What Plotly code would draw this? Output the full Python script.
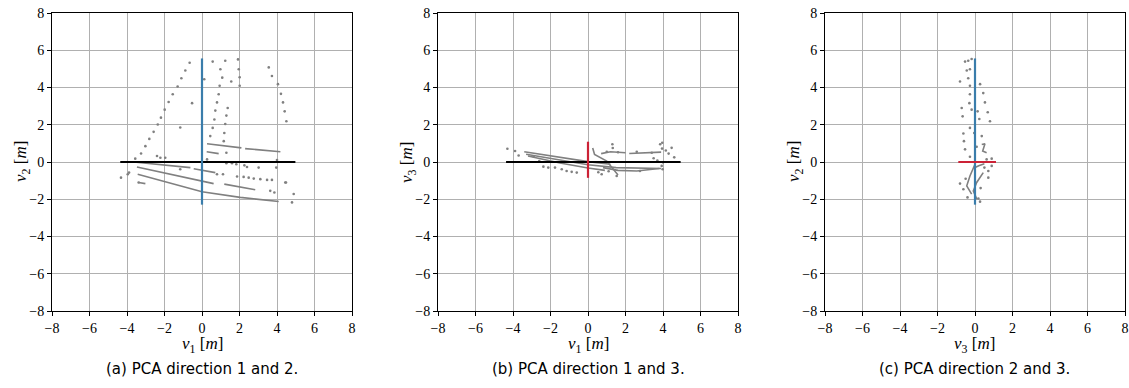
import plotly.graph_objects as go

# ---------------- data ----------------
# Panel (a): v1 vs v2
a_dots_x = [-0.66, -0.89, -1.10, -1.30, -1.56, -1.78, -1.99, -2.19, -2.36, -2.58, -2.81, -3.02, -3.25, -3.56,
            -3.89, -3.96, -4.32, -0.53, -1.16, -2.40, -2.22, -1.96, 0.12,
            0.57, 1.24, 1.92, 0.98, 1.96, 1.08, 1.56, 2.01, 0.94, 2.01, 0.89, 0.80, 1.37, 0.71, 1.30, 0.66, 1.24,
            0.57, 1.19, 0.44, 1.16, 1.30,
            3.56, 3.73, 4.05, 4.21, 4.32, 4.41, 4.50, 4.89, 4.80, 4.44,
            0.27, 1.30, 1.60, 1.83, 2.26, 2.40, 3.02, 3.96, 4.00,
            0.80, 1.12, 1.87, 2.22, 2.49, 2.76, 3.11, 3.47, 3.73, 3.64, 3.86, 4.48, -1.16, -3.38]
a_dots_y = [5.33, 4.91, 4.50, 4.05, 3.64, 3.22, 2.81, 2.38, 2.01, 1.62, 1.24, 0.85, 0.46, 0.18,
            -0.57, -0.66, -0.84, 3.16, 1.85, 0.32, 0.23, 0.23, 4.44,
            5.39, 5.44, 5.51, 4.98, 4.98, 4.53, 4.32, 4.55, 4.09, 4.09, 3.64, 3.20, 2.90, 2.76, 2.49, 2.28, 2.04,
            1.83, 1.56, 1.39, 1.12, 0.50,
            5.08, 4.62, 4.18, 3.66, 3.20, 2.72, 2.19, -1.72, -2.17, -1.10,
            0.14, -0.07, -0.07, -0.12, -0.18, -0.27, -0.30, -0.30, 0.11,
            -0.66, -0.66, -0.78, -0.80, -0.84, -0.89, -0.92, -0.96, -0.96, -1.55, -1.64, -1.10, -0.39, -1.10]
a_streaks_x = [[0.27, 2.10], [2.30, 4.18], [0.25, 0.89], [-3.64, -0.62], [-0.44, 0.71],
               [-3.47, 0.62], [1.19, 2.84], [-3.43, 0.0, 2.04, 4.09], [-3.38, -3.02]]
a_streaks_y = [[0.98, 0.76], [0.72, 0.55], [0.55, 0.45], [0.0, -0.30], [-0.36, -0.57],
               [-0.27, -1.16], [-1.19, -1.49], [-0.66, -1.60, -1.90, -2.12], [-1.10, -1.16]]
a_axis1_x = [-4.36, 4.98]
a_axis2_y = [-2.29, 5.56]

# Panel (b): v1 vs v3
b_dots_x = [-4.30, -3.89, -3.70, -2.38, -2.12, -1.76, -1.40, -1.14, -0.87, -0.60, -2.9, -2.6,
            1.3, 1.32, 3.96, 4.46, 3.93, 3.98, 2.77, 1.53, 0.73, 3.85, 3.95, 4.15, 4.3, 3.5, 3.7, 4.0, 4.6,
            1.0, 1.6, 2.6, 3.4, 0.55, 1.1]
b_dots_y = [0.71, 0.59, 0.35, -0.25, -0.30, -0.30, -0.39, -0.48, -0.53, -0.57, 0.30, 0.05,
            0.95, 0.75, 1.03, 0.76, -0.21, -0.39, -0.48, -0.75, -0.66, 0.95, 0.72, 0.62, 0.45, 0.20, 0.08, -0.02, 0.25,
            0.55, 0.52, 0.55, 0.50, -0.55, -0.50]
b_streaks_x = [[-3.4, -1.8, 0.0, 1.2], [-3.3, -1.5, 0.0, 1.5, 3.9], [-3.2, -1.5, 0.0, 0.9],
               [0.25, 0.35, 1.0, 1.6], [0.7, 1.2, 2.0], [2.2, 3.9], [0.8, 1.6, 2.6, 3.8]]
b_streaks_y = [[0.55, 0.30, 0.02, -0.12], [0.42, 0.10, -0.15, -0.30, -0.35], [0.32, -0.05, -0.32, -0.45],
               [0.75, 0.40, 0.05, -0.70], [0.45, 0.55, 0.50], [0.46, 0.53], [-0.30, -0.45, -0.48, -0.35]]
b_axis1_x = [-4.37, 4.94]
b_axis3_y = [-0.85, 1.09]

# Panel (c): v3 vs v2
c_dots_x = [-0.53, -0.36, -0.18, -0.44, -0.27, -0.80, -0.36, -0.27, 0.27, 0.44, -0.27, -0.30, 0.53, -0.71,
            -0.18, 0.14, 0.68, -0.66, 0.23, 0.80, -0.27, -0.04, -0.62, 0.36, -0.59, 0.09, -0.53, -0.27, 0.62,
            0.89, -0.8, -0.62, 0.71, 0.89, 0.71, 0.27, 0.18, -0.5, 0.5, 0.3, -0.4]
c_dots_y = [5.39, 5.44, 5.53, 4.91, 4.98, 4.32, 4.50, 4.09, 4.18, 3.70, 3.64, 3.16, 3.20, 2.90,
            2.81, 2.72, 2.67, 2.45, 2.31, 2.19, 1.83, 1.56, 1.53, 1.39, 1.12, 0.82, 0.68, 0.28, 0.14,
            0.18, -1.16, -1.46, -0.48, -0.21, -0.84, -2.13, -1.96, -0.9, -0.3, -1.4, -1.9]
c_streaks_x = [[0.36, 0.53, 0.41, 0.62], [0.0, -0.27, -0.44, -0.18], [0.44, 0.09, -0.09, 0.1],
               [0.0, 0.2, 0.5]]
c_streaks_y = [[0.94, 0.98, 0.59, 0.50], [-0.12, -0.75, -1.28, -1.72], [-0.57, -1.10, -1.55, -2.0],
               [-0.3, -0.2, -0.1]]
c_axis2_y = [-2.29, 5.56]
c_axis3_x = [-0.89, 1.12]

tick_vals = [-8, -6, -4, -2, 0, 2, 4, 6, 8]
x_titles = ["<i>v</i><sub>1</sub> [<i>m</i>]", "<i>v</i><sub>1</sub> [<i>m</i>]", "<i>v</i><sub>3</sub> [<i>m</i>]"]
y_titles = ["<i>v</i><sub>2</sub> [<i>m</i>]", "<i>v</i><sub>3</sub> [<i>m</i>]", "<i>v</i><sub>2</sub> [<i>m</i>]"]
captions = ["(a) PCA direction 1 and 2.", "(b) PCA direction 1 and 3.", "(c) PCA direction 2 and 3."]

# ---------------- styling ----------------
W, H = 1129, 388
GRAY = "#808080"
BLUE = "#3a7dab"
RED = "#cc2236"
BLACK = "#000000"
SERIF = "'Liberation Serif', 'Times New Roman', serif"
SANS = "'DejaVu Sans', sans-serif"
x_dom = [(52, 352), (438, 738), (825, 1125)]
y_top, y_bot = 13, 311

fig = go.Figure()


def add_panel(i, dx, dy, sx, sy):
    xa = "x" if i == 0 else f"x{i+1}"
    ya = "y" if i == 0 else f"y{i+1}"
    fig.add_trace(go.Scatter(x=dx, y=dy, mode="markers", xaxis=xa, yaxis=ya,
                             marker=dict(size=2.6, color=GRAY), showlegend=False, hoverinfo="skip"))
    for lx, ly in zip(sx, sy):
        fig.add_trace(go.Scatter(x=lx, y=ly, mode="lines", xaxis=xa, yaxis=ya,
                                 line=dict(color=GRAY, width=1.6), showlegend=False, hoverinfo="skip"))
    return xa, ya


xa, ya = add_panel(0, a_dots_x, a_dots_y, a_streaks_x, a_streaks_y)
fig.add_trace(go.Scatter(x=a_axis1_x, y=[0, 0], mode="lines", xaxis=xa, yaxis=ya,
                         line=dict(color=BLACK, width=2.2), showlegend=False))
fig.add_trace(go.Scatter(x=[0, 0], y=a_axis2_y, mode="lines", xaxis=xa, yaxis=ya,
                         line=dict(color=BLUE, width=2.2), showlegend=False))

xa, ya = add_panel(1, b_dots_x, b_dots_y, b_streaks_x, b_streaks_y)
fig.add_trace(go.Scatter(x=b_axis1_x, y=[0, 0], mode="lines", xaxis=xa, yaxis=ya,
                         line=dict(color=BLACK, width=2.2), showlegend=False))
fig.add_trace(go.Scatter(x=[0, 0], y=b_axis3_y, mode="lines", xaxis=xa, yaxis=ya,
                         line=dict(color=RED, width=2.2), showlegend=False))

xa, ya = add_panel(2, c_dots_x, c_dots_y, c_streaks_x, c_streaks_y)
fig.add_trace(go.Scatter(x=[0, 0], y=c_axis2_y, mode="lines", xaxis=xa, yaxis=ya,
                         line=dict(color=BLUE, width=2.2), showlegend=False))
fig.add_trace(go.Scatter(x=c_axis3_x, y=[0, 0], mode="lines", xaxis=xa, yaxis=ya,
                         line=dict(color=RED, width=2.2), showlegend=False))

tick_font = dict(family=SERIF, size=14, color="black")
axis_common = dict(range=[-8, 8], tickvals=tick_vals, showgrid=True, gridcolor="#b0b0b0", gridwidth=1,
                   zeroline=False, showline=True, linecolor="black", linewidth=1, mirror=True,
                   ticks="outside", ticklen=4, tickcolor="black", tickfont=tick_font, fixedrange=True,
                   automargin=False)

layout = dict(width=W, height=H, margin=dict(l=0, r=0, t=0, b=0, autoexpand=False),
              paper_bgcolor="white", plot_bgcolor="white", showlegend=False,
              font=dict(family=SERIF, size=14, color="black"))
ann = []
for i, (l, r) in enumerate(x_dom):
    sfx = "" if i == 0 else str(i + 1)
    layout[f"xaxis{sfx}"] = dict(domain=[l / W, r / W], anchor=f"y{sfx}", **axis_common)
    layout[f"yaxis{sfx}"] = dict(domain=[1 - y_bot / H, 1 - y_top / H], anchor=f"x{sfx}", **axis_common)
    cx = (l + r) / 2
    ann.append(dict(x=cx / W, y=1 - 345 / H, xref="paper", yref="paper", text=x_titles[i], showarrow=False,
                    font=dict(family=SERIF, size=17, color="black"),
                    xanchor="center", yanchor="middle"))
    ann.append(dict(x=(l - 30) / W, y=1 - 162 / H, xref="paper", yref="paper", text=y_titles[i],
                    showarrow=False, textangle=-90,
                    font=dict(family=SERIF, size=17, color="black"),
                    xanchor="center", yanchor="middle"))
    ann.append(dict(x=cx / W, y=1 - 369 / H, xref="paper", yref="paper", text=captions[i], showarrow=False,
                    font=dict(family=SANS, size=15, color="black"),
                    xanchor="center", yanchor="middle"))
layout["annotations"] = ann
fig.update_layout(**layout)

fig.write_html("out.html")
